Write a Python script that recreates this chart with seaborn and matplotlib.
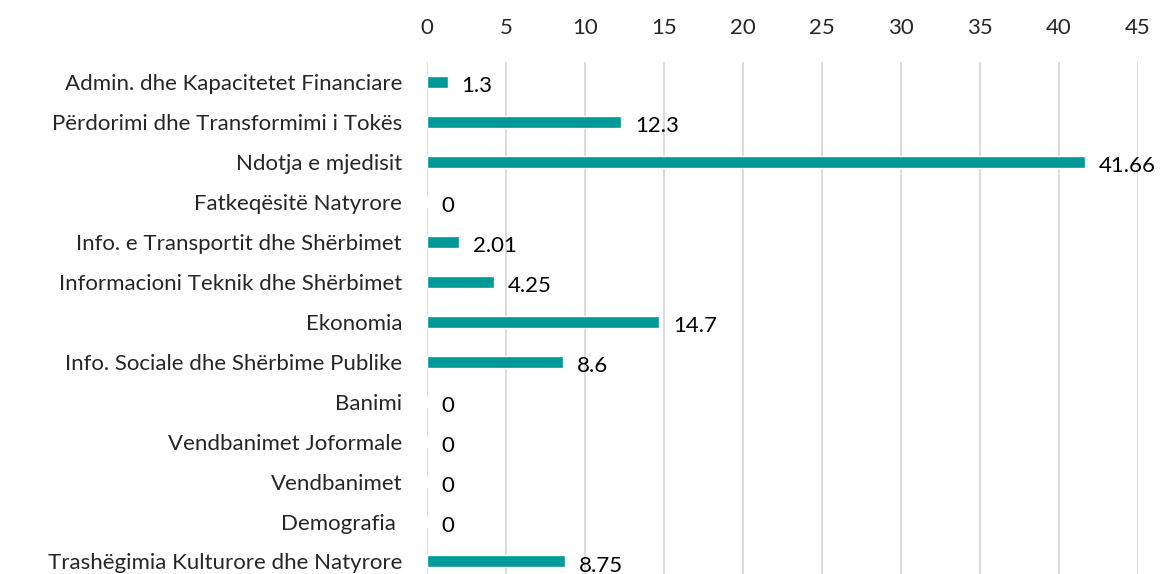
import matplotlib
matplotlib.use("Agg")
import matplotlib.pyplot as plt
import seaborn as sns
import pandas as pd

categories = [
    "Admin. dhe Kapacitetet Financiare",
    "Përdorimi dhe Transformimi i Tokës",
    "Ndotja e mjedisit",
    "Fatkeqësitë Natyrore",
    "Info. e Transportit dhe Shërbimet",
    "Informacioni Teknik dhe Shërbimet",
    "Ekonomia",
    "Info. Sociale dhe Shërbime Publike",
    "Banimi",
    "Vendbanimet Joformale",
    "Vendbanimet",
    "Demografia ",
    "Trashëgimia Kulturore dhe Natyrore",
]
values = [1.3, 12.3, 41.66, 0, 2.01, 4.25, 14.7, 8.6, 0, 0, 0, 0, 8.75]
value_labels = ["1.3", "12.3", "41.66", "0", "2.01", "4.25", "14.7", "8.6", "0", "0", "0", "0", "8.75"]
ticks = [0, 5, 10, 15, 20, 25, 30, 35, 40, 45]

df = pd.DataFrame({"cat": categories, "val": values})

sns.set_style("white")
plt.rcParams["font.family"] = ["Lato", "DejaVu Sans"]
fs = 16

fig = plt.figure(figsize=(11.67, 5.74), dpi=100)
ax = fig.add_axes([0.366, -0.013, 0.609, 0.905])

sns.barplot(data=df, x="val", y="cat", color="#009999", width=0.3,
            saturation=1, ax=ax, zorder=3)

ax.set_xlim(0, 45)
ax.set_ylim(len(categories) - 0.5, -0.5)
ax.set_xticks(ticks)
ax.xaxis.tick_top()
ax.tick_params(axis="x", length=0, labelsize=fs, pad=17)
ax.tick_params(axis="y", length=0, labelsize=fs, pad=18)
ax.set_xlabel("")
ax.set_ylabel("")
for t in ticks:
    ax.axvline(t, color="#d9d9d9", lw=1.3, zorder=1)
for s in ax.spines.values():
    s.set_visible(False)

for i, (v, lab) in enumerate(zip(values, value_labels)):
    ax.annotate(lab, (v, i), xytext=(10, -3), textcoords="offset points",
                va="center", ha="left", fontsize=fs, color="black")

fig.savefig("out.png", dpi=100)
